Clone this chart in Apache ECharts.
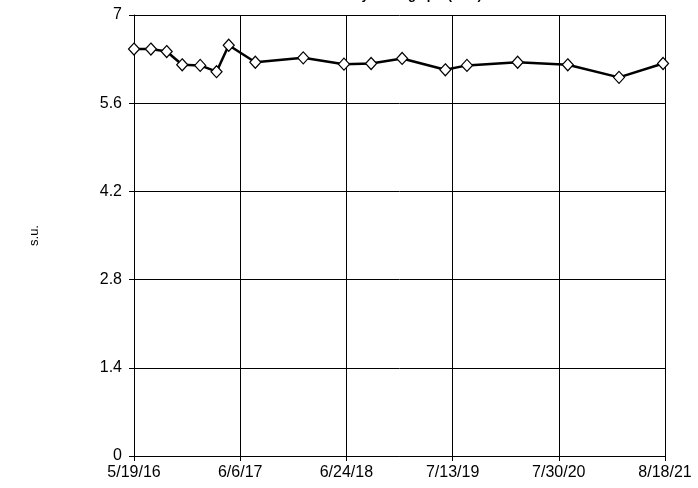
<!DOCTYPE html>
<html>
<head>
<meta charset="utf-8">
<script src="https://cdn.jsdelivr.net/npm/echarts@6/dist/echarts.min.js"></script>
<style>
  html, body { margin: 0; padding: 0; background: #fff; }
  #chart { width: 698px; height: 488px; }
</style>
</head>
<body>
<div id="chart"></div>
<script>
// ---- data ----
const baseDate = '2016-05-19';
const sampleDates = [
  '2016-05-19', '2016-07-19', '2016-09-14', '2016-11-09', '2017-01-13', '2017-03-13',
  '2017-04-26', '2017-07-31', '2018-01-20', '2018-06-16', '2018-09-22', '2019-01-12',
  '2019-06-17', '2019-09-03', '2020-03-04', '2020-09-01', '2021-03-05', '2021-08-11'
];
const phValues = [
  6.46, 6.46, 6.42, 6.21, 6.20, 6.10,
  6.52, 6.25, 6.32, 6.22, 6.23, 6.31,
  6.13, 6.20, 6.25, 6.21, 6.01, 6.23
];
const xTickLabels = ['5/19/16', '6/6/17', '6/24/18', '7/13/19', '7/30/20', '8/18/21'];
const yTickLabels = ['0', '1.4', '2.8', '4.2', '5.6', '7'];
const xSpanDays = 1917;
const xStepDays = 383.4;
const yMax = 7;
const yStep = 1.4;
const titleText = 'Effluent Monthly Average pH (S.U.)';
const yAxisTitle = 's.u.';

// ---- build ----
function dayOffset(s) {
  return Math.round((Date.parse(s + 'T00:00:00Z') - Date.parse(baseDate + 'T00:00:00Z')) / 86400000);
}
const seriesData = sampleDates.map((d, i) => [dayOffset(d), phValues[i]]);

const font = 'Liberation Sans, Arial, sans-serif';
const chart = echarts.init(document.getElementById('chart'), null, { renderer: 'canvas' });
chart.setOption({
  animation: false,
  backgroundColor: '#ffffff',
  title: {
    text: titleText,
    left: 262,
    top: -16,
    textStyle: { fontFamily: font, fontSize: 13, fontWeight: 'bold', color: '#000' }
  },
  grid: { left: 134, right: 33, top: 15, bottom: 32, containLabel: false },
  xAxis: {
    type: 'value',
    min: 0,
    max: xSpanDays,
    interval: xStepDays,
    axisLine: { show: true, onZero: false, lineStyle: { color: '#000', width: 1 } },
    axisTick: { show: true, length: 5, lineStyle: { color: '#000' } },
    splitLine: { show: true, lineStyle: { color: '#000', width: 1 } },
    axisLabel: {
      color: '#000', fontFamily: font, fontSize: 16, margin: 9,
      formatter: v => xTickLabels[Math.round(v / xStepDays)] || ''
    }
  },
  yAxis: {
    type: 'value',
    min: 0,
    max: yMax,
    interval: yStep,
    name: yAxisTitle,
    nameLocation: 'middle',
    nameGap: 93,
    nameRotate: 90,
    nameTextStyle: { color: '#000', fontFamily: font, fontSize: 13 },
    axisLine: { show: true, lineStyle: { color: '#000', width: 1 } },
    axisTick: { show: true, length: 5, lineStyle: { color: '#000' } },
    splitLine: { show: true, lineStyle: { color: '#000', width: 1 } },
    axisLabel: {
      color: '#000', fontFamily: font, fontSize: 16, margin: 12,
      formatter: v => yTickLabels[Math.round(v / yStep)] || ''
    }
  },
  series: [{
    type: 'line',
    data: seriesData,
    symbol: 'diamond',
    symbolSize: [11, 12],
    showAllSymbol: true,
    lineStyle: { color: '#000', width: 2.5 },
    itemStyle: { color: '#fff', borderColor: '#000', borderWidth: 1.2 },
    z: 5
  }]
});
</script>
</body>
</html>
